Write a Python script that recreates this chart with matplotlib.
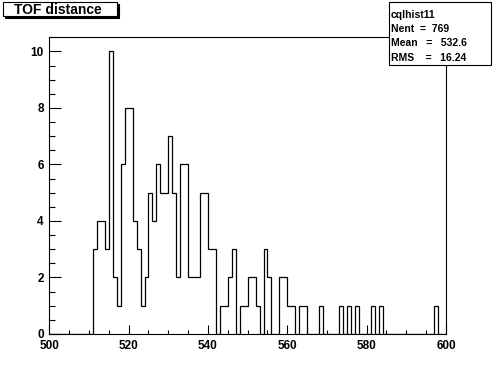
import numpy as np
import matplotlib
matplotlib.use("Agg")
import matplotlib.pyplot as plt
from matplotlib.patches import Rectangle
from matplotlib.ticker import MultipleLocator

# TOF distance histogram, 1 unit bins from 500 to 600
bin_start = 500
bin_stop = 600
counts = [
    0, 0, 0, 0, 0, 0, 0, 0, 0, 0,   # 500-509
    0, 3, 4, 4, 3, 10, 2, 1, 6, 8,  # 510-519
    8, 4, 3, 1, 2, 5, 4, 6, 5, 5,   # 520-529
    7, 5, 2, 6, 6, 2, 2, 2, 5, 5,   # 530-539
    3, 3, 0, 1, 1, 2, 3, 0, 1, 1,   # 540-549
    2, 2, 1, 0, 3, 2, 0, 0, 2, 2,   # 550-559
    1, 1, 0, 1, 1, 0, 0, 0, 1, 0,   # 560-569
    0, 0, 0, 1, 0, 1, 0, 1, 0, 0,   # 570-579
    0, 1, 0, 1, 0, 0, 0, 0, 0, 0,   # 580-589
    0, 0, 0, 0, 0, 0, 0, 1, 0, 0,   # 590-599
]

title = "TOF distance"
stats_name = "cqlhist11"
stats_lines = ["Nent  =  769", "Mean   =   532.6", "RMS    =   16.24"]

FONT = "Liberation Sans"
W, H = 496, 372


def fx(px):
    return px / W


def fy(py):
    return 1 - py / H


def draw_box(fig, x0, y0, x1, y1, shadow=0):
    if shadow:
        fig.patches.append(Rectangle((fx(x0 + shadow), fy(y1 + shadow)), fx(x1 - x0), (y1 - y0) / H,
                                     transform=fig.transFigure, facecolor="black", edgecolor="black",
                                     lw=0.8, zorder=5))
    fig.patches.append(Rectangle((fx(x0), fy(y1)), fx(x1 - x0), (y1 - y0) / H,
                                 transform=fig.transFigure, facecolor="white", edgecolor="black",
                                 lw=0.8, zorder=6))


def make_plot():
    fig = plt.figure(figsize=(W / 100, H / 100), dpi=100)
    fig.patch.set_facecolor("white")

    left, right, top, bottom = 49.3, 446, 37.3, 334
    ax = fig.add_axes([fx(left), fy(bottom), fx(right - left), (bottom - top) / H])

    edges = np.arange(bin_start, bin_stop + 1)
    ax.stairs(counts, edges, color="black", lw=0.9, baseline=0)

    ax.set_xlim(bin_start, bin_stop)
    ax.set_ylim(0, max(counts) * 1.05)
    ax.xaxis.set_major_locator(MultipleLocator(20))
    ax.xaxis.set_minor_locator(MultipleLocator(5))
    ax.yaxis.set_major_locator(MultipleLocator(2))
    ax.yaxis.set_minor_locator(MultipleLocator(0.5))

    ax.tick_params(axis="both", which="both", direction="in", top=False, right=False,
                   width=0.8, color="black")
    ax.tick_params(axis="x", which="major", length=6.5, pad=4.5)
    ax.tick_params(axis="x", which="minor", length=3)
    ax.tick_params(axis="y", which="major", length=8.5, pad=4)
    ax.tick_params(axis="y", which="minor", length=4.3)
    for lab in ax.get_xticklabels() + ax.get_yticklabels():
        lab.set_fontfamily(FONT)
        lab.set_fontweight("bold")
        lab.set_fontsize(8.5)

    for sp in ax.spines.values():
        sp.set_linewidth(0.8)

    # title box, top left
    draw_box(fig, 3.3, 2, 117, 16, shadow=2)
    fig.text(fx(14), fy(9.5), title, ha="left", va="center", fontsize=10,
             fontfamily=FONT, fontweight="bold", zorder=7)

    # stats box, top right
    draw_box(fig, 389, 2, 490.7, 65)
    fig.text(fx(391), fy(15), stats_name, ha="left", va="center", fontsize=7.5,
             fontfamily=FONT, fontweight="bold", zorder=7)
    for i, line in enumerate(stats_lines):
        fig.text(fx(391), fy(29 + 14.5 * i), line, ha="left", va="center", fontsize=7.5,
                 fontfamily=FONT, fontweight="bold", zorder=7)

    fig.savefig("out.png", dpi=100)


if __name__ == "__main__":
    make_plot()
